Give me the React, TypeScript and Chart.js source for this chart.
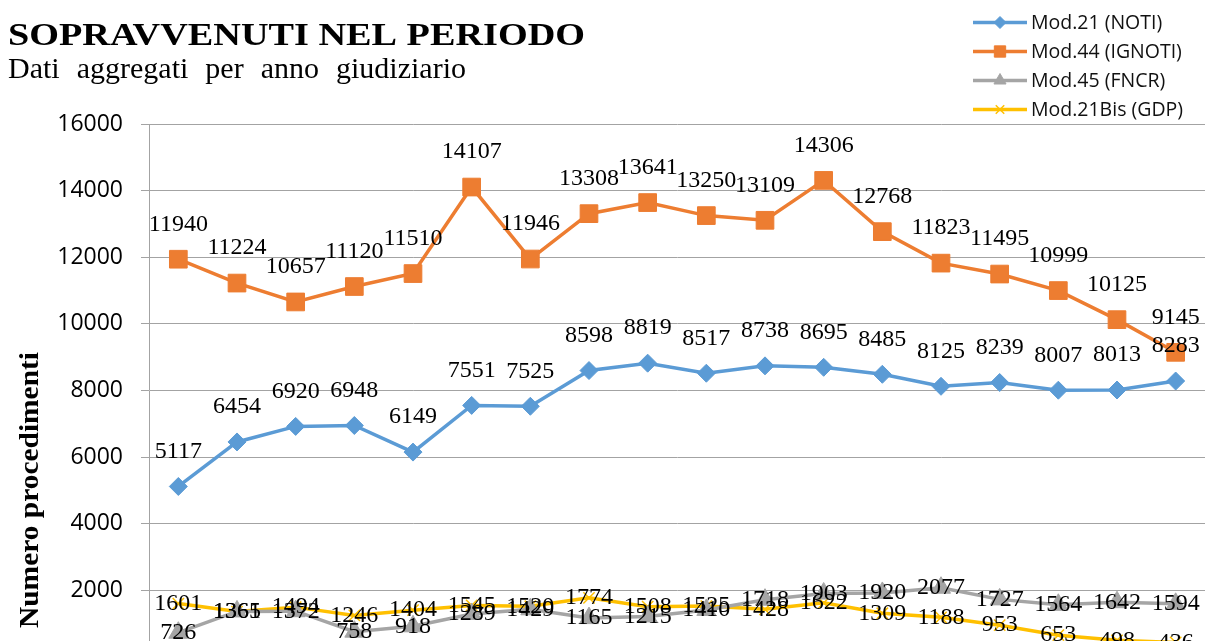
import React, { useEffect, useRef } from 'react';
import { Chart, registerables } from 'chart.js';
import { drawPoint } from 'chart.js/helpers';

Chart.register(...registerables);

// ---- data ----
const categories = ['1', '2', '3', '4', '5', '6', '7', '8', '9', '10', '11', '12', '13', '14', '15', '16', '17', '18'];
const mod21Noti = [5117, 6454, 6920, 6948, 6149, 7551, 7525, 8598, 8819, 8517, 8738, 8695, 8485, 8125, 8239, 8007, 8013, 8283];
const mod44Ignoti = [11940, 11224, 10657, 11120, 11510, 14107, 11946, 13308, 13641, 13250, 13109, 14306, 12768, 11823, 11495, 10999, 10125, 9145];
const mod45Fncr = [726, 1365, 1372, 758, 918, 1289, 1429, 1165, 1215, 1410, 1718, 1903, 1920, 2077, 1727, 1564, 1642, 1594];
const mod21BisGdp = [1601, 1361, 1494, 1246, 1404, 1545, 1520, 1774, 1508, 1525, 1428, 1622, 1309, 1188, 953, 653, 498, 436];
const seriesNames = ['Mod.21 (NOTI)', 'Mod.44 (IGNOTI)', 'Mod.45 (FNCR)', 'Mod.21Bis (GDP)'];
const yMin = 0;
const yMax = 16000;
const yStep = 2000;
const titleText = 'SOPRAVVENUTI NEL PERIODO';
const subtitleText = 'Dati aggregati per anno giudiziario';
const yAxisTitle = 'Numero procedimenti';

const W = 1205;
const H = 700;

const BLUE = '#5B9BD5';
const ORANGE = '#ED7D31';
const GRAY = '#A5A5A5';
const YELLOW = '#FFC000';

const legendMarkers = [
  { pointStyle: 'rectRot', radius: 6 },
  { pointStyle: 'rect', radius: 8 },
  { pointStyle: 'triangle', radius: 7 },
  { pointStyle: 'crossRot', radius: 6 },
];

function drawStretched(ctx: CanvasRenderingContext2D, text: string, x: number, y: number, font: string, targetW: number, align: CanvasTextAlign = 'left') {
  ctx.save();
  ctx.font = font;
  const w = ctx.measureText(text).width;
  ctx.translate(x, y);
  ctx.scale(targetW / w, 1);
  ctx.textAlign = align;
  ctx.fillText(text, 0, 0);
  ctx.restore();
}

function drawSpaced(ctx: CanvasRenderingContext2D, text: string, x: number, y: number, font: string, targetW: number) {
  ctx.save();
  ctx.font = font;
  ctx.textAlign = 'left';
  const words = text.split(' ');
  const widths = words.map((w) => ctx.measureText(w).width);
  const total = widths.reduce((a, b) => a + b, 0);
  const gap = (targetW - total) / (words.length - 1);
  let cx = x;
  words.forEach((w, i) => {
    ctx.fillText(w, cx, y);
    cx += widths[i] + gap;
  });
  ctx.restore();
}

const overlayPlugin = {
  id: 'overlay',
  afterDatasetsDraw(chart: any) {
    const ctx: CanvasRenderingContext2D = chart.ctx;
    ctx.save();
    ctx.font = '24px "Liberation Serif"';
    ctx.fillStyle = '#000';
    ctx.textAlign = 'center';
    ctx.textBaseline = 'middle';
    chart.data.datasets.forEach((ds: any, i: number) => {
      const meta = chart.getDatasetMeta(i);
      meta.data.forEach((pt: any, j: number) => {
        const dy = ds.labelPos === 'above' ? -35 : 0;
        ctx.fillText(String(ds.data[j]), pt.x, pt.y + dy);
      });
    });
    ctx.restore();
  },
  afterDraw(chart: any) {
    const ctx: CanvasRenderingContext2D = chart.ctx;
    ctx.save();
    ctx.fillStyle = '#000';
    ctx.textBaseline = 'alphabetic';
    drawStretched(ctx, titleText, 8, 45, 'bold 31px "Liberation Serif"', 577);
    drawSpaced(ctx, subtitleText, 8, 78, '30px "Liberation Serif"', 458);

    ctx.save();
    ctx.translate(38, 490);
    ctx.rotate(-Math.PI / 2);
    drawStretched(ctx, yAxisTitle, 0, 0, 'bold 28px "Liberation Serif"', 276, 'center');
    ctx.restore();

    // legend
    const ys = [22.5, 51.5, 80.5, 109.5];
    chart.data.datasets.forEach((ds: any, i: number) => {
      const y = ys[i];
      ctx.strokeStyle = ds.borderColor;
      ctx.lineWidth = 3.5;
      ctx.lineCap = 'butt';
      ctx.beginPath();
      ctx.moveTo(973, y);
      ctx.lineTo(1027, y);
      ctx.stroke();
      ctx.fillStyle = ds.borderColor;
      ctx.strokeStyle = ds.borderColor;
      ctx.lineWidth = ds.pointStyle === 'crossRot' ? 1.5 : 1;
      drawPoint(ctx, { pointStyle: legendMarkers[i].pointStyle as any, radius: legendMarkers[i].radius, rotation: 0, borderWidth: ctx.lineWidth }, 1000, y);
      ctx.fillStyle = '#111';
      ctx.font = '19.5px "Open Sans"';
      ctx.textAlign = 'left';
      ctx.textBaseline = 'middle';
      ctx.fillText(ds.label, 1031, y + 1);
    });
    ctx.restore();
  },
};

export default function App() {
  const canvasRef = useRef<HTMLCanvasElement | null>(null);

  useEffect(() => {
    if (!canvasRef.current) return;
    const chart = new Chart(canvasRef.current, {
      type: 'line',
      data: {
        labels: categories,
        datasets: [
          {
            label: seriesNames[0], data: mod21Noti, borderColor: BLUE, backgroundColor: BLUE,
            borderWidth: 3.5, pointStyle: 'rectRot', pointRadius: 9, pointBorderWidth: 1,
            pointBackgroundColor: BLUE, pointBorderColor: BLUE, labelPos: 'above',
          } as any,
          {
            label: seriesNames[1], data: mod44Ignoti, borderColor: ORANGE, backgroundColor: ORANGE,
            borderWidth: 3.5, pointStyle: 'rect', pointRadius: 12.5, pointBorderWidth: 1,
            pointBackgroundColor: ORANGE, pointBorderColor: ORANGE, labelPos: 'above',
          } as any,
          {
            label: seriesNames[2], data: mod45Fncr, borderColor: GRAY, backgroundColor: GRAY,
            borderWidth: 3.5, pointStyle: 'triangle', pointRadius: 11, pointBorderWidth: 1,
            pointBackgroundColor: GRAY, pointBorderColor: GRAY, labelPos: 'center',
          } as any,
          {
            label: seriesNames[3], data: mod21BisGdp, borderColor: YELLOW, backgroundColor: YELLOW,
            borderWidth: 3.5, pointStyle: 'crossRot', pointRadius: 8, pointBorderWidth: 1.5,
            pointBackgroundColor: YELLOW, pointBorderColor: YELLOW, labelPos: 'center',
          } as any,
        ],
      },
      options: {
        responsive: false,
        animation: false,
        devicePixelRatio: 1,
        layout: { autoPadding: false, padding: { left: 0, right: 0, top: 124, bottom: H - 656.9 } },
        plugins: {
          legend: { display: false },
          title: { display: false },
          tooltip: { enabled: false },
        },
        scales: {
          x: {
            display: false,
            offset: true,
          },
          y: {
            min: yMin,
            max: yMax,
            ticks: {
              stepSize: yStep,
              color: '#000',
              padding: 18,
              font: { family: '"Open Sans"', size: 23 },
              callback: (v: any) => String(v),
            },
            grid: { color: '#a3a3a3', lineWidth: 1, tickLength: 8, drawTicks: true },
            border: { display: true, color: '#a3a3a3', width: 1 },
            afterFit(scale: any) {
              scale.width = 149;
            },
          },
        },
      },
      plugins: [overlayPlugin],
    });
    return () => chart.destroy();
  }, []);

  return (
    <div style={{ position: 'absolute', left: 0, top: 0, width: W, height: 641, overflow: 'hidden', background: '#fff' }}>
      <canvas ref={canvasRef} width={W} height={H} style={{ display: 'block' }} />
    </div>
  );
}
